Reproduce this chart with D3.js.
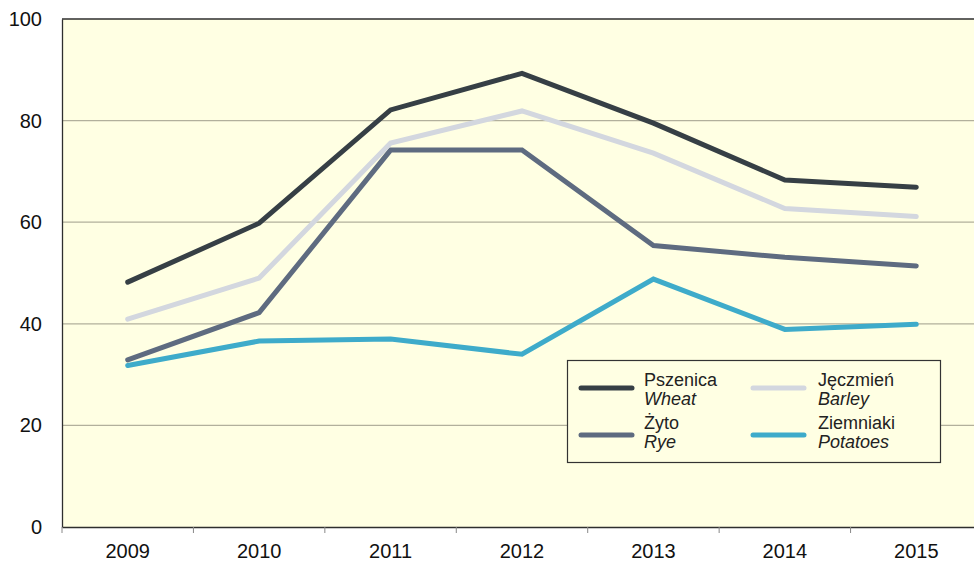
<!DOCTYPE html>
<html>
<head>
<meta charset="utf-8">
<script src="https://cdn.jsdelivr.net/npm/d3@7"></script>
<style>
  body { margin: 0; background: #fff; }
  text { font-family: "Liberation Sans", Arial, sans-serif; }
</style>
</head>
<body>
<div id="wrap"></div>
<script>
var years = ["2009", "2010", "2011", "2012", "2013", "2014", "2015"];
var wheat = [48.2, 59.8, 82.1, 89.3, 79.5, 68.3, 66.9];
var barley = [40.9, 49.0, 75.6, 81.9, 73.6, 62.7, 61.1];
var rye = [32.9, 42.2, 74.2, 74.2, 55.4, 53.1, 51.4];
var potatoes = [31.8, 36.6, 37.0, 34.0, 48.8, 38.9, 39.9];
var yTicks = [0, 20, 40, 60, 80, 100];

var series = [
  { pl: "Pszenica", en: "Wheat", values: wheat, color: "#363f45" },
  { pl: "Jęczmień", en: "Barley", values: barley, color: "#d3d7df" },
  { pl: "Żyto", en: "Rye", values: rye, color: "#5e6b80" },
  { pl: "Ziemniaki", en: "Potatoes", values: potatoes, color: "#3eabca" }
];

var width = 974, height = 563;
var plotLeft = 62, plotRight = 982, plotTop = 19, plotBottom = 527;

var svg = d3.select('#wrap')
  .append('svg')
  .attr("width", width)
  .attr("height", height);

var x = d3.scaleBand().domain(years).range([plotLeft, plotRight]).padding(0);
var y = d3.scaleLinear().domain([0, 100]).range([plotBottom, plotTop]);

// plot background
svg.append("rect")
  .attr("x", plotLeft).attr("y", plotTop)
  .attr("width", plotRight - plotLeft).attr("height", plotBottom - plotTop)
  .attr("fill", "#ffffe3");

// gridlines
svg.append("g")
  .selectAll("line")
  .data(yTicks.filter(function (d) { return d > 0 && d < 100; }))
  .join("line")
  .attr("x1", plotLeft).attr("x2", plotRight)
  .attr("y1", function (d) { return y(d); })
  .attr("y2", function (d) { return y(d); })
  .attr("stroke", "#b2b09c")
  .attr("stroke-width", 1.3);

// top border
svg.append("line")
  .attr("x1", plotLeft).attr("x2", plotRight)
  .attr("y1", plotTop).attr("y2", plotTop)
  .attr("stroke", "#2e2e2e").attr("stroke-width", 1.3);

// y axis
var yAxis = svg.append("g")
  .attr("transform", "translate(" + plotLeft + ",0)")
  .call(d3.axisLeft(y).tickValues(yTicks).tickSize(0).tickPadding(20));
yAxis.select(".domain").attr("stroke", "#2e2e2e").attr("stroke-width", 1.3);
yAxis.selectAll("text").attr("font-size", "20px").attr("fill", "#111");

// x axis
var xAxis = svg.append("g")
  .attr("transform", "translate(0," + plotBottom + ")")
  .call(d3.axisBottom(x).tickSize(0).tickPadding(17));
xAxis.select(".domain").attr("stroke", "#2e2e2e").attr("stroke-width", 1.3);
xAxis.selectAll("text").attr("font-size", "20px").attr("fill", "#111");

// ticks at category boundaries
svg.append("g")
  .selectAll("line")
  .data(years)
  .join("line")
  .attr("x1", function (d) { return x(d); })
  .attr("x2", function (d) { return x(d); })
  .attr("y1", plotBottom).attr("y2", plotBottom + 6)
  .attr("stroke", "#888").attr("stroke-width", 1);

// lines
var line = d3.line()
  .x(function (d, i) { return x(years[i]) + x.bandwidth() / 2; })
  .y(function (d) { return y(d); });

var drawOrder = [series[3], series[2], series[1], series[0]];
svg.append("g")
  .selectAll("path")
  .data(drawOrder)
  .join("path")
  .attr("d", function (s) { return line(s.values); })
  .attr("fill", "none")
  .attr("stroke", function (s) { return s.color; })
  .attr("stroke-width", 5)
  .attr("stroke-linejoin", "miter")
  .attr("stroke-linecap", "round");

// legend
var legend = svg.append("g");
legend.append("rect")
  .attr("x", 567.5).attr("y", 360.5)
  .attr("width", 373).attr("height", 102)
  .attr("fill", "#ffffe3")
  .attr("stroke", "#333").attr("stroke-width", 1.2);

var legendPos = [
  { lx: 581, tx: 644, ly: 388, ty: 386 },
  { lx: 753, tx: 818, ly: 388, ty: 386 },
  { lx: 581, tx: 644, ly: 435, ty: 429 },
  { lx: 753, tx: 818, ly: 435, ty: 429 }
];

series.forEach(function (s, i) {
  var p = legendPos[i];
  legend.append("line")
    .attr("x1", p.lx).attr("x2", p.lx + 51)
    .attr("y1", p.ly).attr("y2", p.ly)
    .attr("stroke", s.color).attr("stroke-width", 5)
    .attr("stroke-linecap", "round");
  legend.append("text")
    .attr("x", p.tx).attr("y", p.ty)
    .attr("font-size", "18px").attr("fill", "#222")
    .text(s.pl);
  legend.append("text")
    .attr("x", p.tx).attr("y", p.ty + 19)
    .attr("font-size", "18px").attr("font-style", "italic").attr("fill", "#222")
    .text(s.en);
});
</script>
</body>
</html>
